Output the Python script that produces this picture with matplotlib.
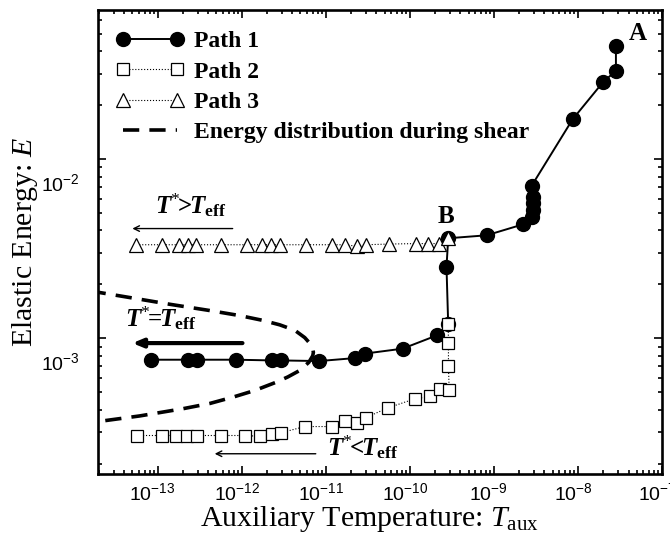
import math

import matplotlib
matplotlib.use("Agg")
import matplotlib.pyplot as plt
import matplotlib.transforms as mtransforms
from matplotlib.ticker import FuncFormatter, LogLocator, NullFormatter

plt.rcParams.update({
    "font.family": "Liberation Serif",
    "mathtext.fontset": "custom",
    "mathtext.rm": "Liberation Serif",
    "mathtext.it": "Liberation Serif:italic",
    "mathtext.bf": "Liberation Serif:bold",
    "mathtext.bfit": "Liberation Serif:italic:bold",
    "mathtext.sf": "Liberation Sans",
})

# Path 1: filled circles, solid line (left branch -> B -> A)
p1_t = [8.4e-14, 2.3e-13, 2.9e-13, 8.65e-13, 2.32e-12, 2.97e-12, 8.3e-12,
        2.21e-11, 2.91e-11, 8.2e-11, 2.11e-10, 2.86e-10, 2.73e-10, 2.86e-10,
        8.2e-10, 2.23e-9, 2.81e-9, 2.94e-9, 2.94e-9, 2.94e-9, 2.81e-9,
        8.65e-9, 2.0e-8, 2.83e-8, 2.83e-8]
p1_e = [7.6e-4, 7.6e-4, 7.6e-4, 7.6e-4, 7.53e-4, 7.53e-4, 7.47e-4,
        7.76e-4, 8.22e-4, 8.76e-4, 1.04e-3, 1.2e-3, 2.5e-3, 3.62e-3,
        3.76e-3, 4.33e-3, 4.76e-3, 5.19e-3, 5.66e-3, 6.16e-3, 7.1e-3,
        1.67e-2, 2.7e-2, 3.11e-2, 4.28e-2]

# Path 2: open squares, dotted line
p2_t = [5.7e-14, 1.14e-13, 1.64e-13, 2.26e-13, 2.94e-13, 5.73e-13, 1.09e-12,
        1.64e-12, 2.32e-12, 2.91e-12, 5.62e-12, 1.19e-11, 1.68e-11, 2.36e-11,
        2.99e-11, 5.52e-11, 1.15e-10, 1.76e-10, 2.28e-10, 2.94e-10, 2.88e-10,
        2.88e-10, 2.86e-10]
p2_e = [2.87e-4, 2.87e-4, 2.87e-4, 2.87e-4, 2.87e-4, 2.87e-4, 2.87e-4,
        2.84e-4, 2.94e-4, 2.97e-4, 3.22e-4, 3.22e-4, 3.44e-4, 3.36e-4,
        3.61e-4, 4.10e-4, 4.60e-4, 4.74e-4, 5.19e-4, 5.12e-4, 6.98e-4,
        9.44e-4, 1.21e-3]

# Path 3: open triangles, dotted line
p3_t = [5.57e-14, 1.14e-13, 1.78e-13, 2.30e-13, 2.89e-13, 5.73e-13, 1.14e-12,
        1.76e-12, 2.26e-12, 2.89e-12, 5.89e-12, 1.19e-11, 1.68e-11, 2.32e-11,
        2.97e-11, 5.67e-11, 1.18e-10, 1.65e-10, 2.23e-10, 2.86e-10]
p3_e = [3.33e-3, 3.33e-3, 3.33e-3, 3.33e-3, 3.33e-3, 3.33e-3, 3.33e-3,
        3.33e-3, 3.33e-3, 3.33e-3, 3.33e-3, 3.33e-3, 3.33e-3, 3.27e-3,
        3.33e-3, 3.36e-3, 3.38e-3, 3.38e-3, 3.38e-3, 3.62e-3]

# energy distribution during shear (dashed outline)
ed_t = [1.55e-14, 1.93e-14, 4.64e-14, 1.39e-13, 4.16e-13, 9.46e-13, 1.78e-12,
        2.83e-12, 4.27e-12, 5.62e-12, 6.63e-12, 7.0e-12, 7.12e-12, 7.0e-12,
        6.28e-12, 4.90e-12, 3.53e-12, 2.59e-12, 1.43e-12, 7.87e-13, 4.16e-13,
        2.0e-13, 6.1e-14, 1.93e-14, 1.55e-14]
ed_e = [1.83e-3, 1.81e-3, 1.69e-3, 1.55e-3, 1.43e-3, 1.34e-3, 1.26e-3,
        1.19e-3, 1.11e-3, 1.01e-3, 9.25e-4, 8.75e-4, 8.35e-4, 8.0e-4,
        7.35e-4, 6.62e-4, 6.09e-4, 5.70e-4, 5.12e-4, 4.70e-4, 4.33e-4,
        4.05e-4, 3.69e-4, 3.43e-4, 3.39e-4]

fig = plt.figure(figsize=(6.7, 5.33), dpi=100)
ax = fig.add_axes([98 / 670, 59 / 533, 564 / 670, 464 / 533])

ax.plot(p1_t, p1_e, "-", color="black", lw=1.4, marker="o", ms=10,
        mfc="black", mec="black", label="Path 1", zorder=3)
ax.plot(p2_t, p2_e, ":", color="black", lw=0.8, marker="s", ms=8.5,
        mfc="white", mec="black", mew=0.9, label="Path 2", zorder=4)
ax.plot(p3_t, p3_e, ":", color="black", lw=0.8, marker="^", ms=10,
        mfc="white", mec="black", mew=0.9, label="Path 3", zorder=5)
ax.plot(ed_t, ed_e, color="black", lw=2.6, dashes=(4.5, 2.8),
        label="Energy distribution during shear", zorder=2)

ax.set_xscale("log")
ax.set_yscale("log")
ax.set_xlim(1.95e-14, 1e-7)
ax.set_ylim(1.75e-4, 0.068)

fmt = FuncFormatter(lambda v, p: r"$\mathsf{10^{%d}}$" % round(math.log10(v)))
ax.xaxis.set_major_locator(LogLocator(base=10, numticks=20))
ax.xaxis.set_major_formatter(fmt)
ax.yaxis.set_major_formatter(fmt)
ax.xaxis.set_minor_formatter(NullFormatter())
ax.yaxis.set_minor_formatter(NullFormatter())
ax.tick_params(which="both", direction="in", top=True, right=True, width=1.2)
ax.tick_params(which="major", length=5.5, labelsize=14, pad=6)
ax.tick_params(which="minor", length=3)
for s in ax.spines.values():
    s.set_linewidth(1.9)

ax.set_xlabel(r"Auxiliary Temperature: $T_{\rm aux}$", fontsize=21.5)
ax.set_ylabel(r"Elastic Energy: $E$", fontsize=21.5)
ax.xaxis.set_label_coords(0.482, -0.065)
ax.yaxis.set_label_coords(-0.103, 0.5)

leg = ax.legend(loc="upper left", bbox_to_anchor=(0.032, 0.955), numpoints=2,
                frameon=False, prop={"weight": "bold", "size": 17},
                handlelength=2.89, handletextpad=0.42, labelspacing=0.37,
                borderaxespad=0, borderpad=0)

# annotations
ax.text(9.2e-14, 4.99e-3, r"$\mathbfit{T}^{*}\!\!\mathbf{>}\!\!\mathbfit{T}_{\mathbf{eff}}$",
        fontsize=18, ha="left", va="baseline")
ax.annotate("", xy=(5.0e-14, 4.1e-3), xytext=(7.8e-13, 4.1e-3),
            arrowprops=dict(arrowstyle="->", lw=1.0, color="black",
                            shrinkA=0, shrinkB=0))
ax.text(4.05e-14, 1.167e-3, r"$\mathbfit{T}^{*}\!\!\mathbf{=}\!\!\mathbfit{T}_{\mathbf{eff}}$",
        fontsize=18, ha="left", va="baseline")
ax.annotate("", xy=(5.0e-14, 9.41e-4), xytext=(1.02e-12, 9.41e-4),
            arrowprops=dict(arrowstyle="-|>,head_length=0.6,head_width=0.25",
                            lw=3, color="black", shrinkA=0, shrinkB=0))
ax.text(1.02e-11, 2.22e-4, r"$\mathbfit{T}^{*}\!\!\mathbf{<}\!\!\mathbfit{T}_{\mathbf{eff}}$",
        fontsize=18, ha="left", va="baseline")
ax.annotate("", xy=(4.77e-13, 2.27e-4), xytext=(7.6e-12, 2.27e-4),
            arrowprops=dict(arrowstyle="->", lw=1.0, color="black",
                            shrinkA=0, shrinkB=0))
ax.text(2.68e-10, 4.81e-3, "B", fontsize=18, fontweight="bold",
        ha="center", va="center")
ax.text(5.1e-8, 5.06e-2, "A", fontsize=18, fontweight="bold",
        ha="center", va="center")

# tick labels in the original sit a little off their ticks
fig.canvas.draw()
y_off = mtransforms.ScaledTranslation(-10 / 100, -23 / 100, fig.dpi_scale_trans)
for tick in ax.yaxis.get_major_ticks():
    tick.label1.set_transform(tick.label1.get_transform() + y_off)
x_off = mtransforms.ScaledTranslation(-5 / 100, 0, fig.dpi_scale_trans)
for tick in ax.xaxis.get_major_ticks():
    tick.label1.set_transform(tick.label1.get_transform() + x_off)

fig.savefig("out.png", dpi=100)
